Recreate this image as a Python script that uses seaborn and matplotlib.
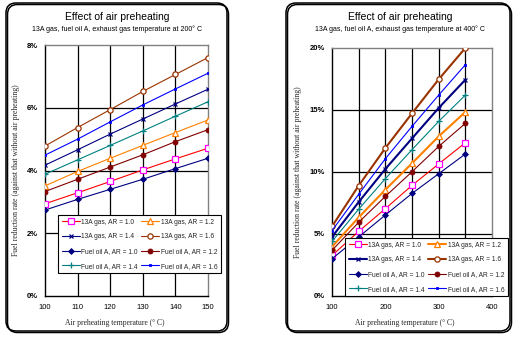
import matplotlib
matplotlib.use("Agg")
import matplotlib.pyplot as plt
import seaborn as sns
import numpy as np
import pandas as pd
from matplotlib.patches import FancyBboxPatch
from matplotlib.lines import Line2D
from matplotlib.ticker import FixedLocator

sns.set_theme(style="white")
plt.rcParams['font.family'] = ['Liberation Sans', 'DejaVu Sans']

# ---------------- data ----------------
temps_200 = [100, 110, 120, 130, 140, 150]
temps_400 = [100, 150, 200, 250, 300, 350]

labels = ["13A gas, AR = 1.0", "13A gas, AR = 1.2", "13A gas, AR = 1.4", "13A gas, AR = 1.6",
          "Fuel oil A, AR = 1.0", "Fuel oil A, AR = 1.2", "Fuel oil A, AR = 1.4", "Fuel oil A, AR = 1.6"]

# exhaust gas 200 C  (%)
gas10_200 = [2.94, 3.29, 3.65, 4.02, 4.37, 4.71]
gas12_200 = [3.51, 3.97, 4.39, 4.80, 5.21, 5.61]
gas14_200 = [4.17, 4.66, 5.16, 5.64, 6.12, 6.59]
gas16_200 = [4.78, 5.37, 5.94, 6.52, 7.06, 7.60]
oil10_200 = [2.74, 3.08, 3.40, 3.72, 4.06, 4.39]
oil12_200 = [3.33, 3.72, 4.11, 4.50, 4.92, 5.30]
oil14_200 = [3.88, 4.34, 4.80, 5.26, 5.73, 6.19]
oil16_200 = [4.49, 5.00, 5.55, 6.09, 6.60, 7.10]

# exhaust gas 400 C  (%)
gas10_400 = [3.27, 5.21, 7.04, 8.92, 10.65, 12.36]
gas12_400 = [3.97, 6.34, 8.57, 10.70, 12.87, 14.84]
gas14_400 = [4.76, 7.58, 10.24, 12.71, 15.16, 17.44]
gas16_400 = [5.61, 8.90, 11.93, 14.73, 17.47, 20.00]
oil10_400 = [3.00, 4.76, 6.53, 8.27, 9.86, 11.45]
oil12_400 = [3.68, 5.94, 8.03, 10.02, 12.06, 13.92]
oil14_400 = [4.40, 7.00, 9.46, 11.80, 14.08, 16.20]
oil16_400 = [5.27, 8.20, 11.07, 13.68, 16.20, 18.65]

# ---------------- styles ----------------
styles = {
    labels[0]: dict(color="#FF0000", marker="s", mfc="white", mec="#FF00FF", ms=3.8, mew=0.9),
    labels[1]: dict(color="#FF8000", marker="^", mfc="white", mec="#FF8000", ms=4.2, mew=0.9),
    labels[2]: dict(color="#000080", marker="x", mfc="#000080", mec="#000080", ms=3.0, mew=0.9),
    labels[3]: dict(color="#993300", marker="o", mfc="white", mec="#993300", ms=3.8, mew=0.9),
    labels[4]: dict(color="#000080", marker="D", mfc="#000080", mec="#000080", ms=3.0, mew=0.6),
    labels[5]: dict(color="#800000", marker="o", mfc="#800000", mec="#800000", ms=3.6, mew=0.6),
    labels[6]: dict(color="#008080", marker="+", mfc="#008080", mec="#008080", ms=4.0, mew=0.9),
    labels[7]: dict(color="#0000FF", marker="s", mfc="#0000FF", mec="#0000FF", ms=2.0, mew=0.6),
}

series_200 = [gas10_200, gas12_200, gas14_200, gas16_200, oil10_200, oil12_200, oil14_200, oil16_200]
series_400 = [gas10_400, gas12_400, gas14_400, gas16_400, oil10_400, oil12_400, oil14_400, oil16_400]
lw_400 = [0.8, 1.5, 1.5, 1.5, 0.8, 0.8, 0.8, 0.8]

W, H = 520, 340
fig = plt.figure(figsize=(W / 100, H / 100), dpi=100)
fig.patch.set_facecolor("white")

def px_axes(x0, y0, x1, y1):
    return fig.add_axes([x0 / W, 1 - y1 / H, (x1 - x0) / W, (y1 - y0) / H])

def frame(x0, y0, x1, y1):
    for dx in (0, 1.5):
        p = FancyBboxPatch(((x0 + dx) / 100, (H - y1 - dx) / 100), (x1 - x0) / 100, (y1 - y0) / 100,
                           boxstyle="round,pad=0,rounding_size=0.1", transform=fig.dpi_scale_trans,
                           fill=False, edgecolor="black", lw=1.1, zorder=0)
        fig.patches.append(p)

frame(6, 3, 227, 331)
frame(286, 3, 510, 331)

def draw_panel(ax, xs, series, lws, xlim, ylim, xmajor, xgrid, ygrid, yfmt, title_x, sub):
    for lab, ys, lw in zip(labels, series, lws):
        st = styles[lab]
        df = pd.DataFrame({"t": xs, "v": ys})
        sns.lineplot(data=df, x="t", y="v", ax=ax, color=st["color"], lw=lw,
                     marker=st["marker"], markerfacecolor=st["mfc"], markeredgecolor=st["mec"],
                     markersize=st["ms"], markeredgewidth=st["mew"], zorder=3)
    ax.set_xlim(*xlim)
    ax.set_ylim(*ylim)
    for gx in xgrid:
        ax.axvline(gx, color="black", lw=0.9, zorder=1)
    for gy in ygrid:
        ax.axhline(gy, color="black", lw=0.9, zorder=1)
    ax.xaxis.set_major_locator(FixedLocator(xmajor))
    ax.set_xticklabels([str(v) for v in xmajor])
    yt = [ylim[0]] + list(ygrid) + [ylim[1]]
    ax.yaxis.set_major_locator(FixedLocator(yt))
    ax.set_yticklabels([yfmt(v) for v in yt])
    ax.tick_params(axis="both", length=0, labelsize=5.5, colors="black")
    ax.tick_params(axis="x", pad=6)
    ax.tick_params(axis="y", pad=5)
    for t in ax.get_yticklabels():
        t.set_fontweight("bold")
    ax.set_xlabel("")
    ax.set_ylabel("")
    ax.grid(False)
    ax.set_facecolor("white")
    for side in ["left", "bottom"]:
        ax.spines[side].set_color("black")
        ax.spines[side].set_linewidth(1.0)
    for side in ["top", "right"]:
        ax.spines[side].set_color("#808080")
        ax.spines[side].set_linewidth(1.0)
    fig.text(title_x / W, 1 - 17 / H, "Effect of air preheating", ha="center", va="center",
             fontsize=7.5, color="black")
    fig.text(title_x / W, 1 - 29.5 / H, sub, ha="center", va="center", fontsize=5, color="black")

ax1 = px_axes(45, 45, 208, 296)
draw_panel(ax1, temps_200, series_200, [0.8] * 8, (100, 150), (0, 8),
           [100, 110, 120, 130, 140, 150], [110, 120, 130, 140], [2, 4, 6],
           lambda v: f"{v:g}%", 117, "13A gas, fuel oil A, exhaust gas temperature at 200° C")

ax2 = px_axes(332, 48, 492, 296)
draw_panel(ax2, temps_400, series_400, lw_400, (100, 400), (0, 20),
           [100, 200, 300, 400], [150, 200, 250, 300, 350], [5, 10, 15],
           lambda v: f"{v:g}%", 400, "13A gas, fuel oil A, exhaust gas temperature at 400° C")

# axis labels
ylab = "Fuel reduction rate (against that without air preheating)"
SERIF = ["Liberation Serif", "DejaVu Serif"]
fig.text(16 / W, 1 - 170 / H, ylab, rotation=90, ha="center", va="center", fontsize=5.6, family=SERIF)
fig.text(298 / W, 1 - 172 / H, ylab, rotation=90, ha="center", va="center", fontsize=5.6, family=SERIF)
xlab = "Air preheating temperature (° C)"
fig.text(115 / W, 1 - 323 / H, xlab, ha="center", va="center", fontsize=5.5, family=SERIF)
fig.text(405 / W, 1 - 323 / H, xlab, ha="center", va="center", fontsize=5.5, family=SERIF)

# legends (column-major order)
order = [0, 2, 4, 6, 1, 3, 5, 7]

def make_legend(ax, lws, x0, y0):
    handles = []
    for i in order:
        st = styles[labels[i]]
        handles.append(Line2D([], [], color=st["color"], lw=lws[i], marker=st["marker"],
                              markerfacecolor=st["mfc"], markeredgecolor=st["mec"],
                              markersize=st["ms"], markeredgewidth=st["mew"]))
    leg = ax.legend(handles, [labels[i] for i in order], ncol=2, loc="upper left",
                    bbox_to_anchor=(x0 / W, 1 - y0 / H), bbox_transform=fig.transFigure,
                    prop={"size": 4.8},
                    frameon=True, fancybox=False, framealpha=1,
                    edgecolor="black", handlelength=2.7, handletextpad=0.2,
                    columnspacing=0.55, labelspacing=1.15, borderpad=0.55, borderaxespad=0)
    leg.get_frame().set_linewidth(0.8)
    leg.set_zorder(10)
    return leg

make_legend(ax1, [0.8] * 8, 58, 215)
make_legend(ax2, lw_400, 345, 238)

fig.savefig("out.png", dpi=100, facecolor="white")
